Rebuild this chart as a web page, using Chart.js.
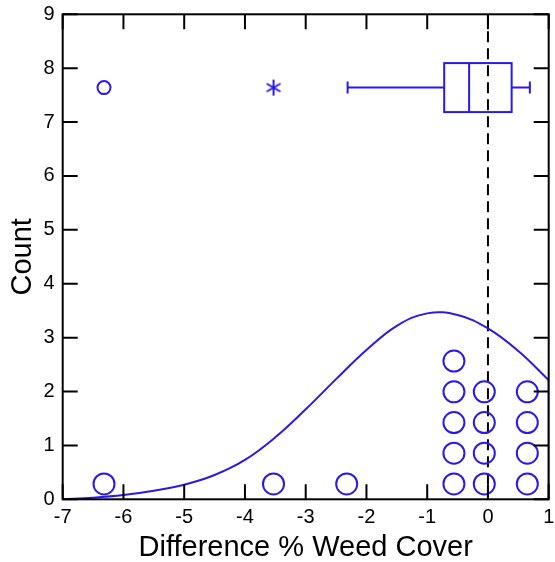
<!DOCTYPE html>
<html>
<head>
<meta charset="utf-8">
<script src="https://cdn.jsdelivr.net/npm/chart.js@4/dist/chart.umd.min.js"></script>
<style>
  body { margin: 0; background: #fff; }
  canvas { display: block; }
</style>
</head>
<body>
<canvas id="weedChart" width="555" height="562"></canvas>
<script>
// Individual differences (dot plot)
const dotValues = [-6.32, -3.53, -2.325, -0.56, -0.56, -0.56, -0.56, -0.56,
                   -0.06, -0.06, -0.06, -0.06, 0.648, 0.648, 0.648, 0.648];
const dotStep = 0.57;

// Fitted normal curve
const curveX = [-7, -6.5, -6, -5.5, -5, -4.5, -4, -3.5, -3, -2.5, -2, -1.5, -1, -0.5, 0, 0.5, 1];
const curveY = [0, 0.03, 0.08, 0.16, 0.27, 0.45, 0.73, 1.15, 1.67, 2.23, 2.77, 3.22, 3.45, 3.42, 3.17, 2.75, 2.21];

// Box plot summary
const boxRow = 7.64;
const boxQuartiles = [-0.72, -0.31, 0.39];
const boxWhiskers = [-2.31, 0.69];
const farOutliers = [-6.32];
const nearOutliers = [-3.53];

const blue = '#2b1ae6';
const fontFamily = "'Liberation Sans', Arial, sans-serif";

// Stack the dots per value
const dotPoints = [];
const seen = {};
dotValues.forEach(v => {
    const k = seen[v] || 0;
    seen[v] = k + 1;
    dotPoints.push({ x: v, y: (k + 0.5) * dotStep });
});

// six-armed asterisk
function makeAsterisk() {
    const c = document.createElement('canvas');
    c.width = 20; c.height = 20;
    const g = c.getContext('2d');
    g.strokeStyle = blue;
    g.lineWidth = 2;
    g.translate(10, 10);
    for (let i = 0; i < 3; i++) {
        const a = Math.PI / 2 + i * Math.PI / 3;
        g.beginPath();
        g.moveTo(Math.cos(a) * 8, Math.sin(a) * 8);
        g.lineTo(-Math.cos(a) * 8, -Math.sin(a) * 8);
        g.stroke();
    }
    return c;
}

const framePlugin = {
    id: 'frame',
    beforeDatasetsDraw(chart) {
        const { ctx, chartArea: a, scales: { x } } = chart;
        const zx = x.getPixelForValue(0);
        ctx.save();
        ctx.strokeStyle = '#000';
        ctx.lineWidth = 2;
        ctx.setLineDash([11, 6]);
        ctx.beginPath();
        ctx.moveTo(zx, a.top);
        ctx.lineTo(zx, a.bottom);
        ctx.stroke();
        ctx.restore();
    },
    afterDatasetsDraw(chart) {
        const { ctx, chartArea: a, scales: { x, y } } = chart;
        const tl = 15;
        ctx.save();
        ctx.strokeStyle = '#000';
        ctx.lineWidth = 2;
        ctx.strokeRect(a.left, a.top, a.right - a.left, a.bottom - a.top);
        ctx.beginPath();
        x.ticks.forEach(t => {
            const px = x.getPixelForValue(t.value);
            ctx.moveTo(px, a.bottom); ctx.lineTo(px, a.bottom - tl);
            ctx.moveTo(px, a.top); ctx.lineTo(px, a.top + tl);
        });
        y.ticks.forEach(t => {
            const py = y.getPixelForValue(t.value);
            ctx.moveTo(a.left, py); ctx.lineTo(a.left + tl, py);
            ctx.moveTo(a.right, py); ctx.lineTo(a.right - tl, py);
        });
        ctx.stroke();

        // box plot
        const by = y.getPixelForValue(boxRow);
        const half = 24.5;
        const q1 = x.getPixelForValue(boxQuartiles[0]);
        const med = x.getPixelForValue(boxQuartiles[1]);
        const q3 = x.getPixelForValue(boxQuartiles[2]);
        const wl = x.getPixelForValue(boxWhiskers[0]);
        const wh = x.getPixelForValue(boxWhiskers[1]);
        ctx.strokeStyle = blue;
        ctx.lineWidth = 2;
        ctx.strokeRect(q1, by - half, q3 - q1, half * 2);
        ctx.beginPath();
        ctx.moveTo(med, by - half); ctx.lineTo(med, by + half);
        ctx.moveTo(wl, by); ctx.lineTo(q1, by);
        ctx.moveTo(q3, by); ctx.lineTo(wh, by);
        ctx.moveTo(wl, by - 6); ctx.lineTo(wl, by + 6);
        ctx.moveTo(wh, by - 6); ctx.lineTo(wh, by + 6);
        ctx.stroke();
        ctx.restore();
    }
};

new Chart(document.getElementById('weedChart'), {
    type: 'scatter',
    data: {
        datasets: [
            {
                type: 'line',
                data: curveX.map((v, i) => ({ x: v, y: curveY[i] })),
                borderColor: blue,
                borderWidth: 2,
                pointRadius: 0,
                tension: 0.4,
                fill: false
            },
            {
                type: 'line',
                data: [{ x: curveX[curveX.length - 1], y: curveY[curveY.length - 1] },
                       { x: curveX[curveX.length - 1], y: 0 }],
                borderColor: blue,
                borderWidth: 2,
                pointRadius: 0,
                fill: false
            },
            {
                data: dotPoints,
                pointRadius: 10.5,
                pointBorderWidth: 2,
                borderColor: blue,
                backgroundColor: 'rgba(0,0,0,0)',
                clip: false
            },
            {
                data: farOutliers.map(v => ({ x: v, y: boxRow })),
                pointRadius: 6.5,
                pointBorderWidth: 2,
                borderColor: blue,
                backgroundColor: 'rgba(0,0,0,0)'
            },
            {
                data: nearOutliers.map(v => ({ x: v, y: boxRow })),
                pointStyle: makeAsterisk(),
                pointRadius: 7
            }
        ]
    },
    options: {
        responsive: false,
        animation: false,
        devicePixelRatio: 1,
        layout: { autoPadding: false, padding: { top: 14.3, right: 6.3, left: 0, bottom: 0 } },
        plugins: { legend: { display: false }, tooltip: { enabled: false } },
        scales: {
            x: {
                type: 'linear',
                min: -7,
                max: 1,
                grid: { display: false, drawTicks: false },
                border: { display: false },
                ticks: {
                    stepSize: 1,
                    color: '#000',
                    padding: 8,
                    font: { family: fontFamily, size: 20, lineHeight: 1 }
                },
                title: {
                    display: true,
                    text: 'Difference % Weed Cover',
                    color: '#000',
                    font: { family: fontFamily, size: 29, lineHeight: 1 },
                    padding: { top: 0, bottom: 0 }
                },
                afterFit(scale) {
                    scale.height = 62.7;
                    scale.paddingLeft = 0;
                    scale.paddingRight = 0;
                }
            },
            y: {
                min: 0,
                max: 9,
                grid: { display: false, drawTicks: false },
                border: { display: false },
                ticks: {
                    stepSize: 1,
                    color: '#000',
                    padding: 8,
                    font: { family: fontFamily, size: 20, lineHeight: 1 }
                },
                title: {
                    display: true,
                    text: 'Count',
                    color: '#000',
                    font: { family: fontFamily, size: 29, lineHeight: 1 },
                    padding: { top: 8, bottom: 0 }
                },
                afterFit(scale) {
                    scale.width = 62.7;
                    scale.paddingTop = 0;
                    scale.paddingBottom = 0;
                }
            }
        }
    },
    plugins: [framePlugin]
});
</script>
</body>
</html>
